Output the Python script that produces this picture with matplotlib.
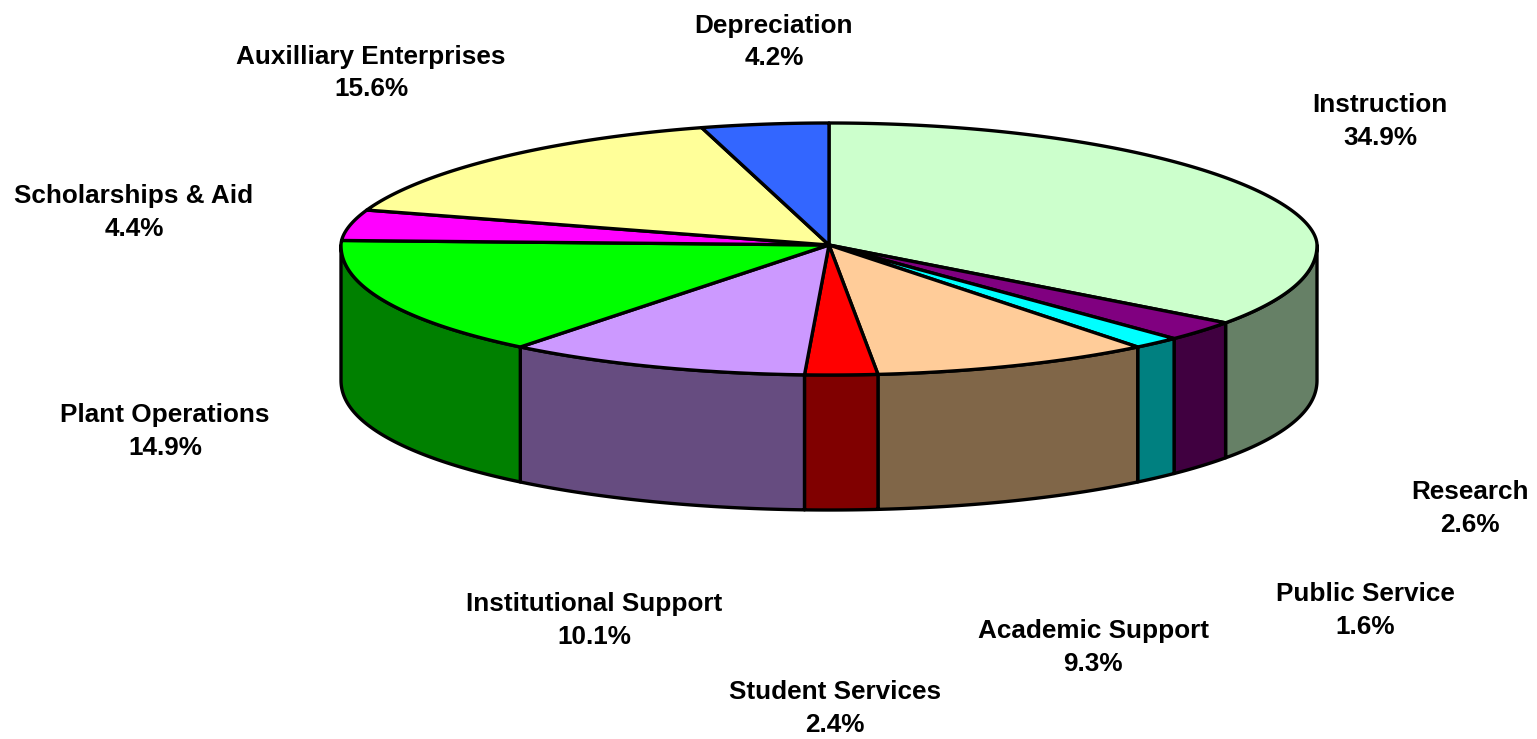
import numpy as np
import matplotlib
matplotlib.use("Agg")
import matplotlib.pyplot as plt
from matplotlib.patches import Polygon

categories = ["Instruction", "Research", "Public Service", "Academic Support", "Student Services",
              "Institutional Support", "Plant Operations", "Scholarships & Aid",
              "Auxilliary Enterprises", "Depreciation"]
shares = [34.9, 2.6, 1.6, 9.3, 2.4, 10.1, 14.9, 4.4, 15.6, 4.2]
top_colors = ["#CCFFCC", "#800080", "#00FFFF", "#FFCC99", "#FF0000",
              "#CC99FF", "#00FF00", "#FF00FF", "#FFFF99", "#3366FF"]
side_colors = ["#668066", "#400040", "#008080", "#806648", "#800000",
               "#664C80", "#008000", "#800080", "#808048", "#1A3380"]
label_centers = [(1380, 121.5), (1470, 508.5), (1365, 610.5), (1093, 647.5), (835, 708.5),
                 (594, 620.5), (165, 431.5), (134, 212.5), (371, 73), (774, 42)]

CX, CY, RX, RY_BACK, RY_FRONT, DEPTH = 829, 245, 488, 122, 130, 135
EDGE = 2.4


def rim(t):
    t = np.asarray(t, dtype=float)
    c = np.cos(t)
    lift = np.where(c >= 0, RY_BACK * np.abs(c) ** 1.1, -RY_FRONT * np.abs(c) ** 0.95)
    return CX + RX * np.sin(t), CY - lift


fig = plt.figure(figsize=(15.37, 7.39), dpi=100, facecolor="white")
ax = fig.add_axes([0, 0, 1, 1])
ax.set_xlim(0, 1537)
ax.set_ylim(739, 0)
ax.axis("off")

edges = np.concatenate([[0], np.cumsum(shares)]) / 100 * 2 * np.pi

# Side wall
for i in range(len(shares)):
    a, b = max(edges[i], np.pi / 2), min(edges[i + 1], 3 * np.pi / 2)
    if b <= a:
        continue
    t = np.linspace(a, b, 200)
    x, y = rim(t)
    pts = np.r_[np.c_[x, y], np.c_[x[::-1], y[::-1] + DEPTH]]
    ax.add_patch(Polygon(pts, closed=True, fc=side_colors[i], ec="black", lw=EDGE, joinstyle="round"))

# Top face
for i in range(len(shares)):
    t = np.linspace(edges[i], edges[i + 1], 300)
    x, y = rim(t)
    pts = np.r_[[[CX, CY]], np.c_[x, y]]
    ax.add_patch(Polygon(pts, closed=True, fc=top_colors[i], ec="black", lw=EDGE, joinstyle="round"))

for name, share, (lx, ly) in zip(categories, shares, label_centers):
    ax.text(lx, ly, f"{name}\n{share:.1f}%", ha="center", va="center", family="Liberation Sans",
            fontweight="bold", fontsize=18.8, linespacing=1.45, color="black")

fig.savefig("out.png", dpi=100)
